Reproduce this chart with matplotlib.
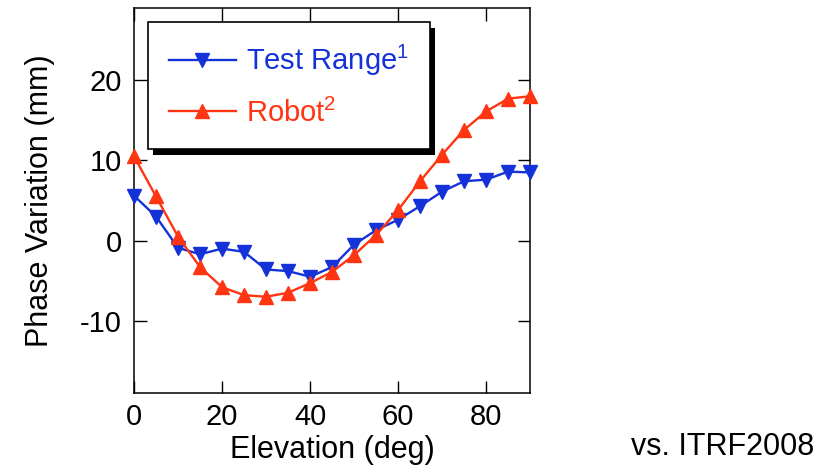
import numpy as np
import matplotlib
matplotlib.use('Agg')
from matplotlib import pyplot as plt
from matplotlib.patches import Rectangle

plt.rcParams['font.family'] = ['Liberation Sans', 'DejaVu Sans']
plt.rcParams['mathtext.fontset'] = 'custom'
plt.rcParams['mathtext.rm'] = 'Liberation Sans'
plt.rcParams['mathtext.it'] = 'Liberation Sans'
plt.rcParams['axes.unicode_minus'] = False

# elevation angles (deg)
elevation = [0, 5, 10, 15, 20, 25, 30, 35, 40, 45, 50, 55, 60, 65, 70, 75, 80, 85, 90]
# phase variation (mm)
test_range = [5.6, 3.0, -0.9, -1.7, -1.0, -1.4, -3.6, -3.8, -4.5, -3.3, -0.5, 1.3, 2.6,
              4.3, 6.1, 7.4, 7.6, 8.6, 8.5]
robot = [10.5, 5.5, 0.5, -3.3, -5.8, -6.8, -7.0, -6.5, -5.3, -3.9, -1.8, 0.7, 3.8,
         7.4, 10.7, 13.8, 16.1, 17.7, 18.0]

blue = '#1432d8'
red = '#ff3512'

fig = plt.figure(figsize=(8.33, 4.71), dpi=100)
ax = fig.add_axes([0.1609, 0.1656, 0.4754, 0.8174])

ax.plot(elevation, test_range, color=blue, lw=1.7, marker='v', ms=10.5,
        label='Test Range$^{1}$', clip_on=False, zorder=3)
ax.plot(elevation, robot, color=red, lw=1.7, marker='^', ms=10.5,
        label='Robot$^{2}$', clip_on=False, zorder=3)

ax.set_xlim(0, 90)
ax.set_ylim(-19, 29)
ax.set_xticks([0, 20, 40, 60, 80])
ax.set_yticks([-10, 0, 10, 20])
ax.tick_params(direction='in', length=9, width=1, top=True, right=True,
               labelsize=21)
ax.tick_params(axis='x', pad=7)
ax.tick_params(axis='y', pad=9)
for s in ax.spines.values():
    s.set_linewidth(1.1)

ax.set_xlabel('Elevation (deg)', fontsize=22, labelpad=3)
ax.set_ylabel('Phase Variation (mm)', fontsize=22, labelpad=18)

leg = ax.legend(loc='upper left', bbox_to_anchor=(0.035, 0.964), borderaxespad=0,
                fontsize=21, frameon=True, fancybox=False, edgecolor='black',
                framealpha=1, handlelength=2.3, handletextpad=0.35,
                labelspacing=0.7, borderpad=0.72, labelcolor='linecolor')
leg.get_frame().set_linewidth(1.2)
leg.set_zorder(6)

# hard black drop shadow behind the legend box
fig.canvas.draw()
bb = leg.get_window_extent().transformed(ax.transAxes.inverted())
dx = 5 / (ax.bbox.width)
dy = 6 / (ax.bbox.height)
ax.add_patch(Rectangle((bb.x0 + dx, bb.y0 - dy), bb.width, bb.height,
                       transform=ax.transAxes, facecolor='black',
                       edgecolor='none', zorder=5.5, clip_on=False))

fig.text(0.978, 0.035, 'vs. ITRF2008', fontsize=22, ha='right', va='baseline')

fig.savefig('out.png', dpi=100)
